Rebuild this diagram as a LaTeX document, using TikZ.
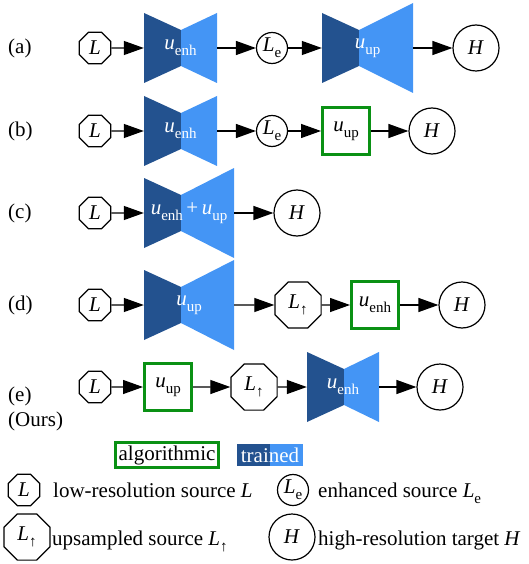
\documentclass[tikz,border=0pt]{standalone}
\usepackage{fontspec}
\setmainfont{Liberation Serif}
\usetikzlibrary{shapes.geometric,arrows.meta}
\definecolor{encblue}{RGB}{35,82,143}
\definecolor{decblue}{RGB}{68,149,245}
\definecolor{algogreen}{RGB}{10,145,20}
\newcommand\sub[1]{\raisebox{-6pt}{\fontsize{15}{15}\selectfont#1}}
\newcommand\vL{\textit{L}}
\newcommand\vu{\textit{u}}
\tikzset{
  src/.style={draw,line width=1.2pt,regular polygon,regular polygon sides=8,inner sep=0pt,minimum size=34pt},
  upsrc/.style={src,minimum size=50pt},
  enhsrc/.style={draw,line width=1.2pt,circle,inner sep=0pt,minimum size=31pt},
  tgt/.style={draw,line width=1.2pt,circle,inner sep=0pt,minimum size=46pt},
  algo/.style={draw=algogreen,line width=3pt},
  algobox/.style={algo,inner sep=0pt,minimum size=47pt},
  flow/.style={line width=1.3pt,-{Triangle[length=20pt,width=14pt]}},
  rowlabel/.style={anchor=west,inner sep=0pt,align=left},
  keytext/.style={anchor=base west,inner sep=0pt}
}
% name, left x, y, decoder width, decoder half height, label
\newcommand\unet[6]{%
  \fill[encblue] (#2,{#3-35}) -- ({#2+37},{#3-18}) -- ({#2+37},{#3+18}) -- (#2,{#3+35}) -- cycle;
  \fill[decblue] ({#2+37},{#3-18}) -- ({#2+37+#4},{#3-#5}) -- ({#2+37+#4},{#3+#5}) -- ({#2+37},{#3+18}) -- cycle;
  \node[text=white,inner sep=0pt,minimum width={37+#4},minimum height=70pt] (#1) at ({#2+(37+#4)/2},#3) {#6};
}
\begin{document}
\begin{tikzpicture}[x=1pt,y=-1pt,font=\fontsize{21}{25}\selectfont]
  \useasboundingbox (0,0) rectangle (528,564);

  \node[rowlabel] (rowa) at (8,48) {(a)};
  \node[src] (aL) at (95,48) {\vL};
  \unet{aenh}{144}{48}{36}{35}{\vu\sub{enh}}
  \node[enhsrc] (aLe) at (272,48) {\vL\sub{e}};
  \unet{aup}{322}{48}{54}{45}{\vu\sub{up}}
  \node[tgt] (aH) at (476,48) {\textit{H}};
  \draw[flow] (aL) -- (aenh.west);
  \draw[flow] (aenh.east) -- (aLe);
  \draw[flow] (aLe) -- (aup.west);
  \draw[flow] (aup.east) -- (aH);

  \node[rowlabel] (rowb) at (8,131) {(b)};
  \node[src] (bL) at (95,131) {\vL};
  \unet{benh}{144}{131}{36}{35}{\vu\sub{enh}}
  \node[enhsrc] (bLe) at (272,131) {\vL\sub{e}};
  \node[algobox] (bup) at (346,131) {\vu\sub{up}};
  \node[tgt] (bH) at (432,131) {\textit{H}};
  \draw[flow] (bL) -- (benh.west);
  \draw[flow] (benh.east) -- (bLe);
  \draw[flow] (bLe) -- (bup);
  \draw[flow] (bup) -- (bH);

  \node[rowlabel] (rowc) at (8,213) {(c)};
  \node[src] (cL) at (95,213) {\vL};
  \unet{cjoint}{144}{213}{53}{45}{\vu\sub{enh}\,+\,\vu\sub{up}}
  \node[tgt] (cH) at (297,213) {\textit{H}};
  \draw[flow] (cL) -- (cjoint.west);
  \draw[flow] (cjoint.east) -- (cH);

  \node[rowlabel] (rowd) at (8,305) {(d)};
  \node[src] (dL) at (95,305) {\vL};
  \unet{dup}{144}{305}{53}{45}{\vu\sub{up}}
  \node[upsrc] (dLup) at (298,305) {\vL\sub{↑}};
  \node[algobox] (denh) at (375,305) {\vu\sub{enh}};
  \node[tgt] (dH) at (462,305) {\textit{H}};
  \draw[flow] (dL) -- (dup.west);
  \draw[flow] (dup.east) -- (dLup);
  \draw[flow] (dLup) -- (denh);
  \draw[flow] (denh) -- (dH);

  \node[rowlabel] (rowe) at (8,409) {(e)\\(Ours)};
  \node[src] (eL) at (95,387) {\vL};
  \node[algobox] (eup) at (168,387) {\vu\sub{up}};
  \node[upsrc] (eLup) at (254,387) {\vL\sub{↑}};
  \unet{eenh}{307}{387}{35}{35}{\vu\sub{enh}}
  \node[tgt] (eH) at (440,387) {\textit{H}};
  \draw[flow] (eL) -- (eup);
  \draw[flow] (eup) -- (eLup);
  \draw[flow] (eLup) -- (eenh.west);
  \draw[flow] (eenh.east) -- (eH);

  \node[algo,inner sep=3pt] (algokey) at (167,455) {algorithmic};
  \node[text=white,fill=decblue,inner sep=4pt,path picture={\fill[encblue] (path picture bounding box.south west) rectangle (path picture bounding box.north);}] (trainkey) at (270,455) {trained};

  \node[src] (keyL) at (24,490) {\vL};
  \node[keytext] (keyLtext) at (53,497) {low-resolution source \vL};
  \node[enhsrc] (keyLe) at (293,490) {\vL\sub{e}};
  \node[keytext] (keyLetext) at (318,497) {enhanced source \vL\sub{e}};
  \node[upsrc] (keyLup) at (27,537) {\vL\sub{↑}};
  \node[keytext] (keyLuptext) at (52,545) {upsampled source \vL\sub{↑}};
  \node[tgt] (keyH) at (292,537) {\textit{H}};
  \node[keytext] (keyHtext) at (318,545) {high-resolution target \textit{H}};
\end{tikzpicture}
\end{document}
